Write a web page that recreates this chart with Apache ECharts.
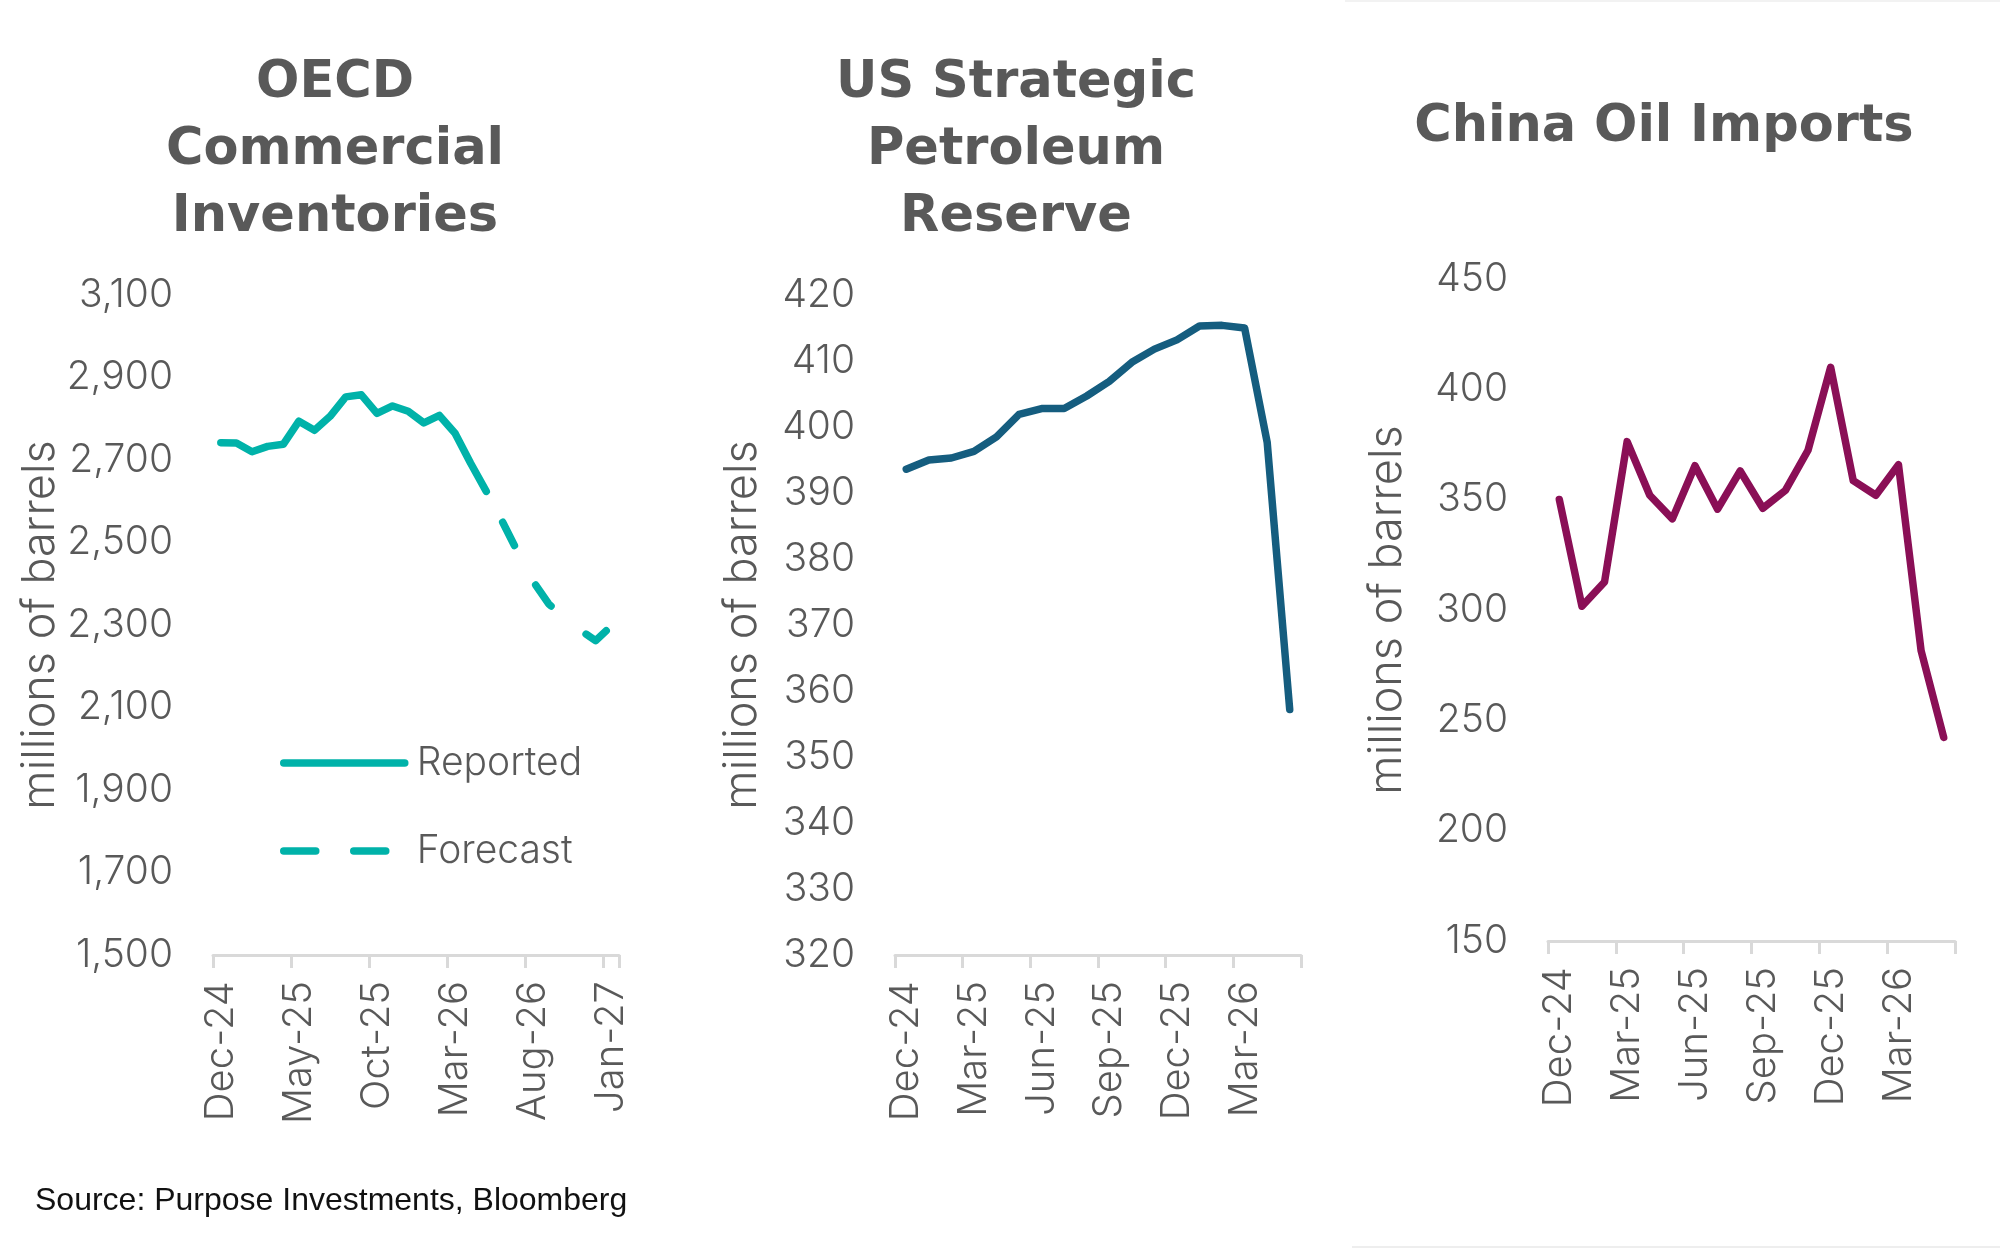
<!DOCTYPE html>
<html lang="en">
<head>
<meta charset="utf-8">
<title>Oil inventories</title>
<style>
  html, body { margin: 0; padding: 0; background: #fff; }
  #chart { width: 2000px; height: 1259px; }
</style>
</head>
<body>
<div id="chart"></div>
<script src="https://cdn.jsdelivr.net/npm/echarts@6.0.0/dist/echarts.min.js"></script>
<script>
  // OECD commercial inventories, monthly Dec-24 .. Jan-27 (millions of barrels)
  var oecdMonths = ['Dec-24', 'Jan-25', 'Feb-25', 'Mar-25', 'Apr-25', 'May-25', 'Jun-25', 'Jul-25',
    'Aug-25', 'Sep-25', 'Oct-25', 'Nov-25', 'Dec-25', 'Jan-26', 'Feb-26', 'Mar-26', 'Apr-26',
    'May-26', 'Jun-26', 'Jul-26', 'Aug-26', 'Sep-26', 'Oct-26', 'Nov-26', 'Dec-26', 'Jan-27'];
  var oecdReported = [2742, 2741, 2720, 2733, 2738, 2794, 2772, 2806, 2853, 2858, 2813, 2831,
    2818, 2790, 2808, 2765, 2692, 2624];
  // forecast picks up from the last reported month (May-26)
  var oecdForecast = [2624, 2553, 2478, 2406, 2351, 2318, 2288, 2262, 2297];
  var oecdTicks = [1500, 1700, 1900, 2100, 2300, 2500, 2700, 2900, 3100];

  // US strategic petroleum reserve, Dec-24 .. May-26
  var sprMonths = ['Dec-24', 'Jan-25', 'Feb-25', 'Mar-25', 'Apr-25', 'May-25', 'Jun-25', 'Jul-25',
    'Aug-25', 'Sep-25', 'Oct-25', 'Nov-25', 'Dec-25', 'Jan-26', 'Feb-26', 'Mar-26', 'Apr-26', 'May-26'];
  var sprStock = [393.6, 395.0, 395.3, 396.3, 398.5, 401.9, 402.8, 402.8, 404.7, 406.9, 409.8,
    411.8, 413.2, 415.3, 415.4, 415.0, 397.7, 357.2];

  // China crude imports, Dec-24 .. May-26
  var chinaMonths = ['Dec-24', 'Jan-25', 'Feb-25', 'Mar-25', 'Apr-25', 'May-25', 'Jun-25', 'Jul-25',
    'Aug-25', 'Sep-25', 'Oct-25', 'Nov-25', 'Dec-25', 'Jan-26', 'Feb-26', 'Mar-26', 'Apr-26', 'May-26'];
  var chinaImports = [350.1, 301.7, 312.7, 376.3, 352.0, 341.3, 365.4, 345.7, 363.0, 346.1, 354.2,
    372.4, 410.0, 358.6, 352.0, 365.8, 281.6, 242.3];

  var TEAL = '#00b2a9', NAVY = '#155d7f', PLUM = '#8a0f56';
  var TXT = '#595959', AXIS = '#d9d9d9';
  var LABEL_FONT = 'Inter';

  var myChart = echarts.init(document.getElementById('chart'), null, { renderer: 'canvas' });

  // forecast series sits on the same axis, padded with blanks before it starts
  var forecastStart = oecdReported.length - 1;
  var forecastData = oecdMonths.map(function (m, i) {
    return i < forecastStart ? null : oecdForecast[i - forecastStart];
  });

  function xAxis(gridIndex, months, every) {
    return {
      type: 'category', gridIndex: gridIndex, data: months, boundaryGap: true,
      axisLine: { lineStyle: { color: AXIS, width: 3 } },
      axisTick: { show: true, length: 13, interval: every - 1, lineStyle: { color: AXIS, width: 3 } },
      axisLabel: {
        interval: every - 1, rotate: 90, margin: 26,
        fontFamily: LABEL_FONT, fontWeight: 300, fontSize: 40, color: TXT
      }
    };
  }

  function yAxis(gridIndex, min, max, interval, nameGap) {
    return {
      type: 'value', gridIndex: gridIndex, min: min, max: max, interval: interval,
      name: 'millions of barrels', nameLocation: 'middle', nameGap: nameGap, nameRotate: 90,
      nameTextStyle: { fontFamily: LABEL_FONT, fontWeight: 300, fontSize: 45, color: TXT },
      axisLine: { show: false }, axisTick: { show: false }, splitLine: { show: false },
      axisLabel: { margin: 40, fontFamily: LABEL_FONT, fontWeight: 300, fontSize: 39, color: TXT }
    };
  }

  function line(name, xi, data, color, extra) {
    var s = {
      name: name, type: 'line', xAxisIndex: xi, yAxisIndex: xi, data: data,
      symbol: 'none', silent: true, connectNulls: false,
      itemStyle: { color: color },
      lineStyle: { color: color, width: 7.5, cap: 'round', join: 'round' }
    };
    if (extra) s.lineStyle = Object.assign(s.lineStyle, extra);
    return s;
  }

  var y1 = yAxis(0, 1500, 3100, 200, 150);
  // 1500 is not a multiple of 200, so give the labels explicitly
  y1.axisLabel.customValues = oecdTicks;
  y1.axisLabel.formatter = function (v) { return v.toLocaleString('en-US'); };
  delete y1.interval;

  var titleStyle = { fontFamily: 'DejaVu Sans', fontWeight: 'bold', fontSize: 51, lineHeight: 67, fill: TXT, align: 'center', verticalAlign: 'middle' };

  myChart.setOption({
    animation: false,
    backgroundColor: '#ffffff',
    grid: [
      { left: 213, top: 295, width: 406, height: 660, outerBoundsMode: 'none' },
      { left: 895, top: 295, width: 406, height: 660, outerBoundsMode: 'none' },
      { left: 1548, top: 279, width: 407, height: 662, outerBoundsMode: 'none' }
    ],
    xAxis: [xAxis(0, oecdMonths, 5), xAxis(1, sprMonths, 3), xAxis(2, chinaMonths, 3)],
    yAxis: [y1, yAxis(1, 320, 420, 10, 130), yAxis(2, 150, 450, 50, 138)],
    legend: {
      data: ['Reported', { name: 'Forecast', lineStyle: { type: [32, 38], dashOffset: 0 } }],
      orient: 'vertical', left: 280, top: 743, padding: 0,
      itemWidth: 121, itemHeight: 20, itemGap: 48,
      itemStyle: { opacity: 0 },
      lineStyle: { width: 7.5, cap: 'round' },
      textStyle: { fontFamily: LABEL_FONT, fontWeight: 300, fontSize: 39, lineHeight: 40, color: TXT, padding: [0, 0, 0, 7] },
      selectedMode: false
    },
    series: [
      line('Reported', 0, oecdReported, TEAL),
      line('Forecast', 0, forecastData, TEAL, { type: [26, 45], dashOffset: 36 }),
      line('US SPR', 1, sprStock, NAVY),
      line('China Oil Imports', 2, chinaImports, PLUM)
    ],
    graphic: [
      { type: 'text', x: 335, y: 151, style: Object.assign({ text: 'OECD\nCommercial\nInventories' }, titleStyle) },
      { type: 'text', x: 1016, y: 151, style: Object.assign({ text: 'US Strategic\nPetroleum\nReserve' }, titleStyle) },
      { type: 'text', x: 1664, y: 128, style: Object.assign({ text: 'China Oil Imports' }, titleStyle) },
      { type: 'text', x: 35, y: 1201, style: { text: 'Source: Purpose Investments, Bloomberg', fontFamily: 'Liberation Sans', fontSize: 32, fill: '#111111', verticalAlign: 'middle' } },
      { type: 'line', shape: { x1: 1352, y1: 1247, x2: 2000, y2: 1247 }, style: { stroke: '#eeeeee', lineWidth: 2 } },
      { type: 'line', shape: { x1: 1345, y1: 1, x2: 2000, y2: 1 }, style: { stroke: '#f2f2f2', lineWidth: 2 } }
    ]
  });
</script>
</body>
</html>
